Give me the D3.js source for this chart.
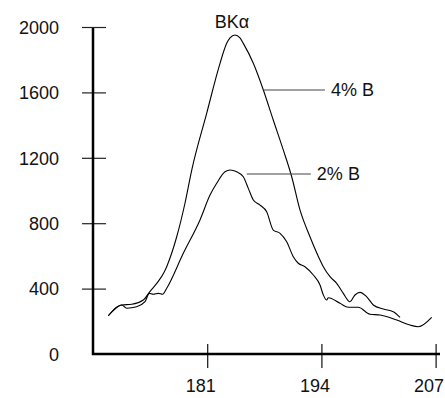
<!DOCTYPE html>
<html lang="en">

<head>
  <meta charset="UTF-8">
  <title>BKα</title>
  <script src="https://d3js.org/d3.v7.min.js"></script>
  <style>
    body {
      margin: 0;
      background-color: #fff;
    }

    svg {
      display: block;
      font-family: Arial, "Liberation Sans", sans-serif;
    }
  </style>
</head>

<body>
  <svg></svg>
  <script>
    const xTicks = [181, 194, 207];
    const yTicks = [0, 400, 800, 1200, 1600, 2000];

    // 4% B spectrum (energy, counts)
    const energy4 = [169.74, 171.27, 172.41, 173.73, 174.41, 176.39, 177.53, 178.47, 179.24, 180.94, 182.46, 183.22, 183.60,
      184.16, 184.73, 185.11, 186.25, 187.39, 188.52, 189.66, 190.62, 191.56, 192.70, 193.84, 194.22, 194.98, 195.74,
      196.49, 197.25, 197.82, 198.39, 199.16, 199.91, 201.05, 202.18, 202.95];
    const counts4 = [234, 300, 304, 330, 377, 534, 717, 922, 1125, 1472, 1778, 1900, 1933,
      1951, 1933, 1900, 1778, 1615, 1431, 1248, 1084, 881, 717, 575, 534, 473, 432,
      371, 320, 361, 377, 350, 300, 275, 259, 224];

    // 2% B spectrum
    const energy2 = [169.74, 171.27, 171.84, 172.97, 173.92, 174.41, 174.86, 175.43, 175.93, 176.39, 178.28, 180.18, 181.32,
      182.08, 183.03, 183.60, 184.36, 185.11, 185.68, 186.25, 187.01, 187.77, 188.52, 189.29, 190.05, 190.80, 191.37,
      192.13, 193.08, 193.84, 194.22, 194.60, 194.78, 196.12, 197.06, 198.20, 199.53, 200.67, 202.57, 204.08, 205.03, 206.55];
    const counts2 = [234, 300, 280, 289, 320, 371, 365, 371, 365, 402, 616, 820, 972,
      1044, 1115, 1125, 1115, 1084, 1013, 942, 911, 870, 758, 738, 687, 595, 555,
      534, 483, 422, 361, 330, 344, 310, 286, 286, 243, 239, 208, 177, 167, 224];

    const seriesNames = ["4% B", "2% B"];
    const leaderFrom = [187.4, 185.5];
    const leaderTo = [194.4, 192.8];
    const leaderY = [1615, 1101];
    const title = "BKα";

    const width = 445, height = 398;
    const svg = d3.select("svg").attr("width", width).attr("height", height);

    const x = d3.scaleLinear().domain([168, 207.5]).range([93, 440]);
    const y = d3.scaleLinear().domain([0, 2000]).range([354, 27]);

    // y axis
    const yAxis = svg.append("g")
      .attr("transform", `translate(${x(168)},0)`)
      .call(d3.axisLeft(y).tickValues(yTicks).tickFormat(d3.format("d"))
        .tickSize(0).tickSizeOuter(0).tickPadding(0));
    yAxis.select(".domain").remove();
    yAxis.selectAll(".tick")
      .filter(d => d !== 0)
      .select("line")
      .attr("x1", -11).attr("x2", 13)
      .attr("stroke", "#222").attr("stroke-width", 1.2);
    yAxis.selectAll(".tick text")
      .attr("x", -34).attr("dy", "0.35em")
      .attr("font-size", 18).attr("font-family", null).attr("fill", "#111");

    // x axis
    const xAxis = svg.append("g")
      .attr("transform", `translate(0,${y(0)})`)
      .call(d3.axisBottom(x).tickValues(xTicks).tickFormat(d3.format("d"))
        .tickSize(0).tickSizeOuter(0).tickPadding(0));
    xAxis.select(".domain").remove();
    xAxis.selectAll(".tick line")
      .attr("y1", -10).attr("y2", 14)
      .attr("stroke", "#111").attr("stroke-width", 1.2);
    xAxis.selectAll(".tick text")
      .attr("x", -7).attr("y", 38).attr("dy", 0)
      .attr("font-size", 18).attr("font-family", null).attr("fill", "#111");

    // axis lines
    svg.append("path")
      .attr("d", `M${x(168)},${y(2000) + 1}V${y(0)}H${x(207.5)}`)
      .attr("fill", "none")
      .attr("stroke", "#000")
      .attr("stroke-width", 2.5);

    const line = d3.line()
      .x(d => x(d[0]))
      .y(d => y(d[1]))
      .curve(d3.curveMonotoneX);

    const series = [d3.zip(energy4, counts4), d3.zip(energy2, counts2)];

    svg.selectAll(".spectrum")
      .data(series)
      .join("path")
      .attr("class", "spectrum")
      .attr("d", line)
      .attr("fill", "none")
      .attr("stroke", "#000")
      .attr("stroke-width", 1.1);

    // leader lines + labels
    seriesNames.forEach(function (name, i) {
      svg.append("line")
        .attr("x1", x(leaderFrom[i])).attr("x2", x(leaderTo[i]))
        .attr("y1", y(leaderY[i])).attr("y2", y(leaderY[i]))
        .attr("stroke", "#444").attr("stroke-width", 1.1);
      svg.append("text")
        .attr("x", x(leaderTo[i]) + 6)
        .attr("y", y(leaderY[i]))
        .attr("dy", "0.35em")
        .attr("font-size", 18)
        .attr("fill", "#111")
        .text(name);
    });

    svg.append("text")
      .attr("x", 232)
      .attr("y", 28)
      .attr("text-anchor", "middle")
      .attr("font-size", 18)
      .attr("fill", "#111")
      .text(title);
  </script>
</body>

</html>
